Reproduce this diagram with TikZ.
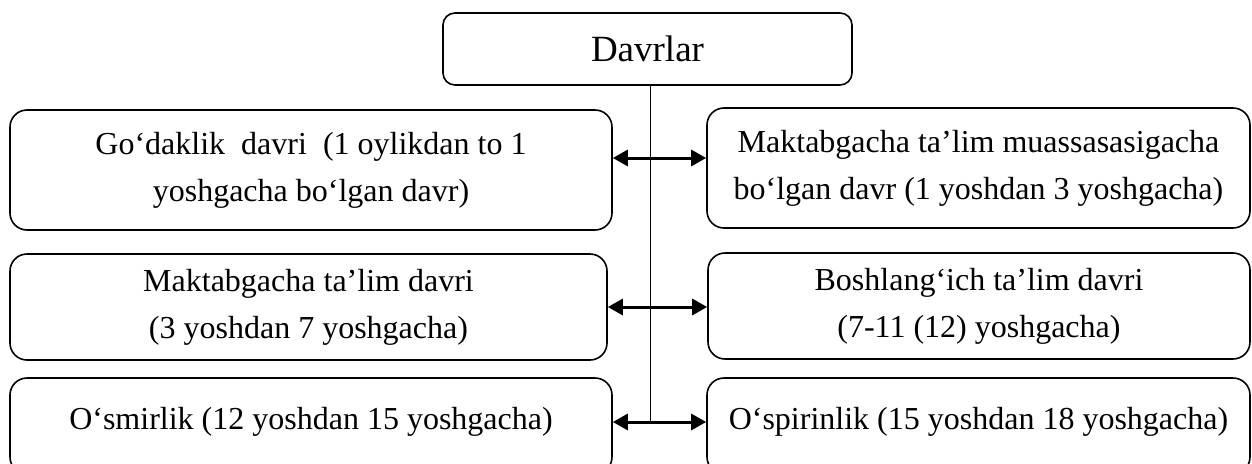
\documentclass[tikz,border=0pt]{standalone}
\usepackage{fontspec}
\setmainfont{Liberation Serif}
\usetikzlibrary{arrows.meta,positioning}

\begin{document}
\begin{tikzpicture}
[x=1pt,y=-1pt,
      period/.style={draw,line width=1.6pt,rounded corners=17pt,inner sep=0pt,
      align=center,font=\fontsize{32}{47}\selectfont},
      leftcol/.style={period,minimum width=602pt},
      rightcol/.style={period,minimum width=543pt},
      both/.style={line width=3pt,
      {Triangle[length=15pt,width=16pt]}-{Triangle[length=15pt,width=16pt]}}]
 \useasboundingbox (0,0) rectangle (1252,463);
 \clip (0,0) rectangle (1252,463);
 % top
 \node[period,rounded corners=12pt,minimum width=409pt,minimum height=72pt,
   font=\fontsize{37}{44}\selectfont] (davr) at (647.5,49) {Davrlar};
 % row 1
 \node[leftcol,minimum height=120pt] (godak) at (311,170)
  {Go‘daklik\ \ davri\ \ (1 oylikdan to 1\\yoshgacha bo‘lgan davr)};
 \node[rightcol,minimum height=120pt] (maktab1) at (978.5,168)
  {Maktabgacha ta’lim muassasasigacha\\bo‘lgan davr (1 yoshdan 3 yoshgacha)};
 % row 2
 \node[period,minimum width=597pt,minimum height=106pt] (maktab2) at (308.5,307)
  {Maktabgacha ta’lim davri\\(3 yoshdan 7 yoshgacha)};
 \node[rightcol,minimum width=542pt,minimum height=106pt] (boshl) at (979,306)
  {Boshlang‘ich ta’lim davri\\(7-11 (12) yoshgacha)};
 % row 3 (runs past the lower edge)
 \node[leftcol,minimum height=96pt] (osmir) at (311,426)
  {\raisebox{4pt}[\height][\depth]{O‘smirlik (12 yoshdan 15 yoshgacha)}};
 \node[rightcol,minimum height=96pt] (ospir) at (978.5,426)
  {\raisebox{4pt}[\height][\depth]{O‘spirinlik (15 yoshdan 18 yoshgacha)}};
 % trunk and arrows
 \coordinate (a1) at (650,158);
 \coordinate (a2) at (650,307);
 \coordinate (a3) at (650,422);
 \draw[line width=1pt] (davr.south -| a1) -- (a3);
 \draw[both] (godak.east |- a1) -- (maktab1.west |- a1);
 \draw[both] (maktab2.east |- a2) -- (boshl.west |- a2);
 \draw[both] (osmir.east |- a3) -- (ospir.west |- a3);
\end{tikzpicture}
\end{document}
